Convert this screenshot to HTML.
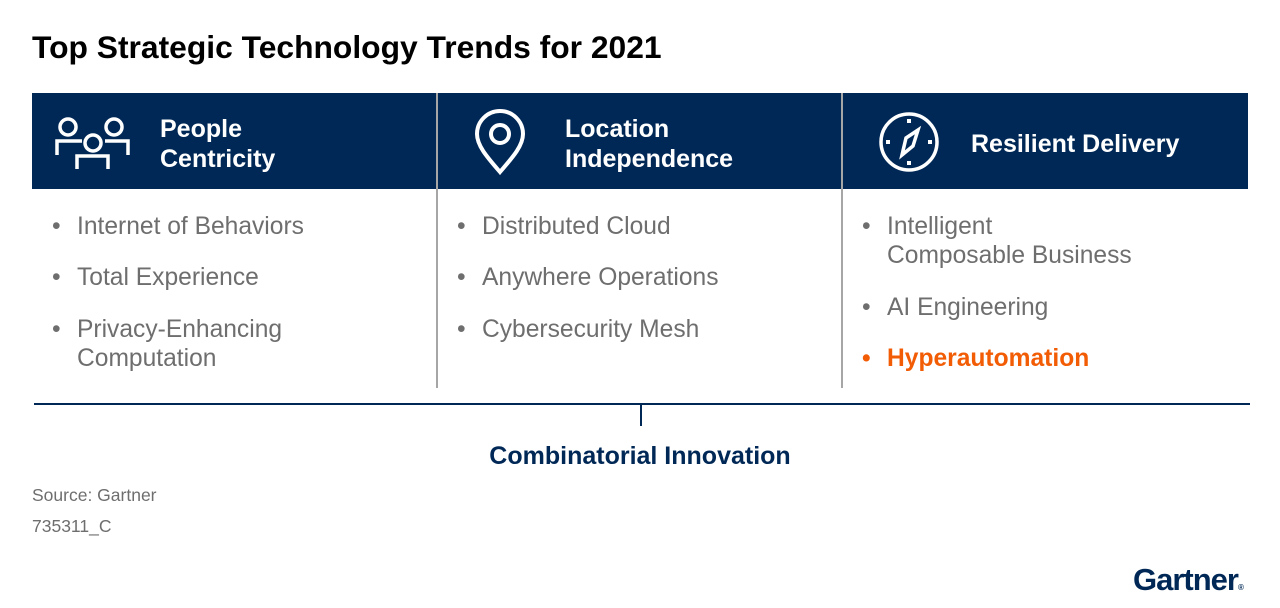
<!DOCTYPE html>
<html><head><meta charset="utf-8"><style>
body{margin:0;width:1280px;height:608px;background:#fff;position:relative;overflow:hidden;font-family:"Liberation Sans",Arial,sans-serif}
.a{position:absolute}
.t{left:32px;top:29px;font-size:31.8px;font-weight:bold;color:#000}
.band{left:32px;top:93px;width:1216px;height:96px;background:#002856}
.h{color:#fff;font-weight:bold;font-size:25px;line-height:30px}
.v{width:2px;background:#a6a6a6;top:93px;height:295px}
.li{font-size:24.6px;color:#6e6e6e;line-height:29px;white-space:nowrap}
.li span{position:absolute;left:-25px}
</style></head><body>
<div class="a t">Top Strategic Technology Trends for 2021</div>
<div class="a band"></div>
<div class="a v" style="left:436px"></div>
<div class="a v" style="left:841px"></div>
<svg class="a" style="left:52px;top:115px" width="80" height="56" viewBox="0 0 80 56" fill="none" stroke="#fff" stroke-width="3.5">
<circle cx="16" cy="12" r="8"/><circle cx="62" cy="12" r="8"/><circle cx="41" cy="28" r="8"/>
<path d="M5 40V26H30M53 26H76V40M25 54V41H56V54"/></svg>
<div class="a h" style="left:160px;top:114px">People<br>Centricity</div>
<svg class="a" style="left:472px;top:108px" width="56" height="68" viewBox="0 0 56 68" fill="none" stroke="#fff" stroke-width="4">
<path d="M28 64C16 50 5 38 5 26A23 23 0 0 1 51 26C51 38 40 50 28 64Z"/><circle cx="28" cy="26" r="9"/></svg>
<div class="a h" style="left:565px;top:114px">Location<br>Independence</div>
<svg class="a" style="left:878px;top:111px" width="62" height="62" viewBox="0 0 62 62" fill="none" stroke="#fff" stroke-width="3.5">
<circle cx="31" cy="31" r="28"/><path d="M24 44L28 27L40 19L35 35Z"/>
<g fill="#fff" stroke="none"><rect x="29" y="8" width="4" height="4"/><rect x="29" y="50" width="4" height="4"/><rect x="8" y="29" width="4" height="4"/><rect x="50" y="29" width="4" height="4"/></g></svg>
<div class="a h" style="left:971px;top:129px">Resilient Delivery</div>

<div class="a li" style="left:77px;top:212px"><span>•</span>Internet of Behaviors</div>
<div class="a li" style="left:77px;top:263px"><span>•</span>Total Experience</div>
<div class="a li" style="left:77px;top:315px"><span>•</span>Privacy-Enhancing<br>Computation</div>
<div class="a li" style="left:482px;top:212px"><span>•</span>Distributed Cloud</div>
<div class="a li" style="left:482px;top:263px"><span>•</span>Anywhere Operations</div>
<div class="a li" style="left:482px;top:315px"><span>•</span>Cybersecurity Mesh</div>
<div class="a li" style="left:887px;top:212px"><span>•</span>Intelligent<br>Composable Business</div>
<div class="a li" style="left:887px;top:293px"><span>•</span>AI Engineering</div>
<div class="a li" style="left:887px;top:344px;color:#f25c05;font-weight:bold"><span>•</span>Hyperautomation</div>

<div class="a" style="left:34px;top:403px;width:1216px;height:2px;background:#002856"></div>
<div class="a" style="left:640px;top:404px;width:2px;height:22px;background:#002856"></div>
<div class="a" style="left:0;width:1280px;top:442px;text-align:center;font-size:25px;font-weight:bold;color:#002856">Combinatorial Innovation</div>
<div class="a" style="left:32px;top:485px;font-size:17.5px;color:#6e6e6e">Source: Gartner</div>
<div class="a" style="left:32px;top:516px;font-size:17.5px;color:#6e6e6e">735311_C</div>
<div class="a" style="left:1133px;top:562px;font-size:31px;font-weight:bold;color:#002856;letter-spacing:-1px">Gartner<span style="font-size:8px">®</span></div>
</body></html>
